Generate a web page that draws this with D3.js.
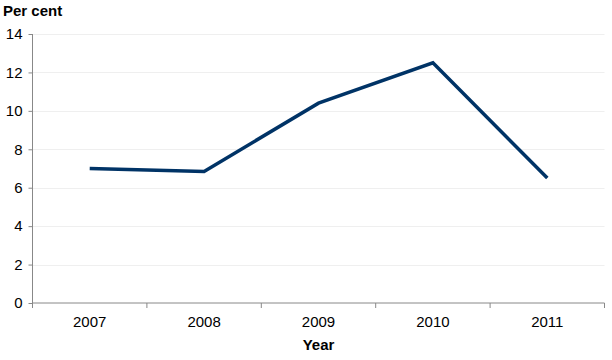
<!DOCTYPE html>
<html><head><meta charset="utf-8">
<script src="https://cdn.jsdelivr.net/npm/d3@7"></script>
<style>body{margin:0;background:#fff}svg{display:block}text{font-family:"Liberation Sans",Arial,sans-serif}</style>
</head><body><svg id="c" width="612" height="360"></svg>
<script>
const categories = ["2007","2008","2009","2010","2011"];
const values = [7.0, 6.85, 10.4, 12.5, 6.5];
const yTicks = [0,2,4,6,8,10,12,14];

const svg = d3.select("#c");
const m = {l:32.5, r:604.5, t:34, b:303};
const x = d3.scaleBand().domain(categories).range([m.l, m.r]);
const y = d3.scaleLinear().domain([0,14]).range([m.b, m.t]);

// gridlines
svg.append("g").selectAll("line").data(yTicks.filter(d=>d>0)).join("line")
  .attr("x1", m.l).attr("x2", m.r)
  .attr("y1", d=>Math.round(y(d))+0.5).attr("y2", d=>Math.round(y(d))+0.5)
  .attr("stroke", "#efefef").attr("stroke-width", 1);

// y axis
const ya = svg.append("g").attr("transform", `translate(${m.l},0)`)
  .call(d3.axisLeft(y).tickValues(yTicks).tickSize(4).tickPadding(6));
ya.select(".domain").attr("stroke", "#888").attr("d", `M-0,${m.t}V${m.b}`);
ya.selectAll(".tick line").attr("stroke", "#888");
ya.selectAll("text").attr("font-size", 15).attr("fill", "#000").attr("font-family", "Liberation Sans, Arial, sans-serif");

// x axis
const xa = svg.append("g").attr("transform", `translate(0,${m.b})`)
  .call(d3.axisBottom(x).tickSize(0).tickPadding(13));
xa.select(".domain").attr("stroke", "#888").attr("d", `M${m.l},0H${m.r}`);
xa.selectAll("text").attr("font-size", 15).attr("fill", "#000").attr("font-family", "Liberation Sans, Arial, sans-serif");
// boundary ticks between categories
const bounds = categories.map(c => x(c)).concat([x(categories[categories.length-1]) + x.bandwidth()]);
xa.append("g").selectAll("line").data(bounds).join("line")
  .attr("x1", d=>d).attr("x2", d=>d).attr("y1", 0).attr("y2", 5).attr("stroke", "#888");

// line
const line = d3.line().x((d,i)=>x(categories[i]) + x.bandwidth()/2).y(d=>y(d));
svg.append("path").datum(values).attr("d", line)
  .attr("fill", "none").attr("stroke", "#003366").attr("stroke-width", 3.5)
  .attr("stroke-linejoin", "miter");

// titles
svg.append("text").attr("x", 3).attr("y", 16).attr("font-size", 15).attr("font-weight", "bold").text("Per cent");
svg.append("text").attr("x", (m.l+m.r)/2).attr("y", 350).attr("text-anchor", "middle")
  .attr("font-size", 15).attr("font-weight", "bold").text("Year");
</script></body></html>
